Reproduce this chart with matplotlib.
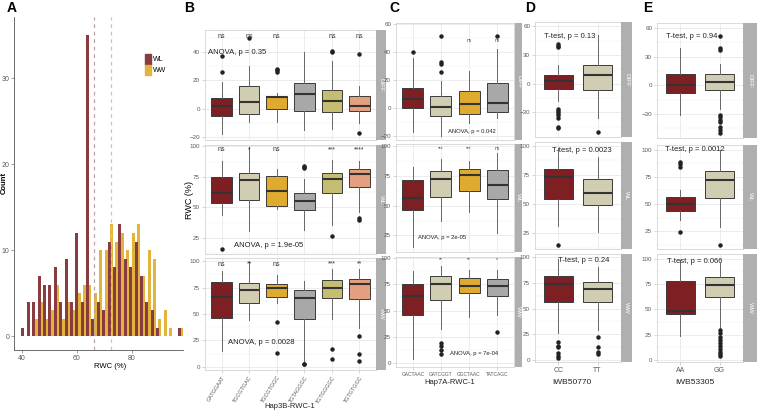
import matplotlib.pyplot as plt
import numpy as np
from matplotlib.patches import Patch
from matplotlib.ticker import MultipleLocator

plt.rcParams['font.family'] = ['Liberation Sans Narrow', 'Liberation Sans', 'DejaVu Sans']

# ---------------- data ----------------
# A: histogram counts per bin (WL / WW)
wl_counts = [1, 4, 4, 7, 6, 6, 8, 4, 9, 4, 12, 4, 35, 2, 4, 3, 11, 8, 13, 9, 8, 11, 7, 4, 3, 1, 0, 0, 0, 1]
ww_counts = [0, 0, 2, 4, 2, 3, 6, 2, 4, 3, 5, 6, 6, 5, 10, 10, 13, 11, 12, 10, 12, 13, 7, 10, 9, 2, 3, 1, 0, 1]
bin_start = 39.8
bin_width = 1.96
wl_mean = 66.2
ww_mean = 72.4

# box stats: (whisker low, q1, median, q3, whisker high)
b_groups = ['GATGGAAT', 'TGCGTGAC', 'TGCGTGGC', 'TGTAGGGC', 'TGTGGGGC', 'TGTGTGGC']
b_diff_stats = [(-18, -5, 2, 7.5, 19), (-9, -4, 5, 16, 30), (-9.5, 0, 8, 9.2, 11),
                (-15, -1.5, 10.5, 18, 40), (-14, -2.5, 5.5, 13.5, 34), (-10, -1.5, 2, 9, 16)]
b_diff_fliers = [[26, 37], [50], [26, 27, 28], [], [40, 41], [38.5, -17]]
b_diff_sig = ['ns', 'ns', 'ns', '', 'ns', 'ns']
b_wl_stats = [(44, 54, 62, 75, 88), (31, 56, 72.4, 78.4, 99.5), (48.5, 51.5, 63.5, 76, 81),
              (31.7, 48, 55.5, 62, 73), (36, 61.6, 73, 78.4, 89), (46, 67, 77.4, 81.6, 88)]
b_wl_fliers = [[16], [], [], [82, 83, 84], [26.7], [40, 41.5]]
b_wl_sig = ['ns', '*', 'ns', '', '***', '****']
b_ww_stats = [(14.8, 46.4, 66.2, 80.4, 90.5), (44, 60.6, 72.6, 79.5, 99.4), (60, 66.2, 75, 78.2, 86.7),
              (5, 44.8, 64.7, 72.6, 81.4), (45.7, 64.7, 74.8, 82, 92.4), (36.3, 64, 78, 83, 92.4)]
b_ww_fliers = [[], [], [42.6, 13.5], [3, 2.5], [17.3, 7], [29.3, 12, 5.7]]
b_ww_sig = ['ns', '**', 'ns', '', '***', '**']
b_tests = ['ANOVA, p = 0.35', 'ANOVA, p = 1.9e-05', 'ANOVA, p = 0.0028']

c_groups = ['GACTAAC', 'GATCGGT', 'GGCTAAC', 'TATCAGC']
c_diff_stats = [(-17, 0, 6.4, 14.3, 36), (-20, -5.6, 0.6, 8.8, 19.6), (-11, -4.2, 2.8, 12.4, 26.3),
                (-7.3, -2.7, 3.6, 18, 42)]
c_diff_fliers = [[40], [25.6, 31.6, 32.8, 51.5], [], [52]]
c_diff_sig = ['', '', 'ns', 'ns']
c_wl_stats = [(15.2, 46.6, 56.5, 72, 83), (36.8, 57, 72.8, 79.5, 89.3), (44.7, 62, 76, 81, 87.4),
              (27, 55.9, 67.4, 80.3, 94.4)]
c_wl_fliers = [[], [], [], []]
c_wl_sig = ['', '***', '***', 'ns']
c_ww_stats = [(4, 46, 64.4, 75.2, 87.3), (32.7, 59.7, 75.2, 82.5, 92), (44.4, 66.7, 73, 81, 88.9),
              (46, 64.4, 73, 80, 88.9)]
c_ww_fliers = [[], [19, 16.5, 12.7, 8.6], [], [29.5]]
c_ww_sig = ['', '**', '**', '*']
c_tests = ['ANOVA, p = 0.042', 'ANOVA, p = 2e-05', 'ANOVA, p = 7e-04']

d_groups = ['CC', 'TT']
d_diff_stats = [(-18, -5.9, 2.4, 8.7, 19), (-35.6, -7, 8.7, 19.9, 50.6)]
d_diff_fliers = [[41.9, 39.4, 38, -27, -29, -31, -33, -36, -45, -47], [-51]]
d_wl_stats = [(31.3, 54.4, 73.5, 79.8, 97.7), (26.4, 49, 59.2, 71.8, 90.6)]
d_wl_fliers = [[15], []]
d_ww_stats = [(26, 56.2, 74, 81.8, 98), (29, 56.2, 69.2, 76.3, 91)]
d_ww_fliers = [[17, 14, 12.3, 6.5, 4, 2.3], [22.7, 13, 8, 5.5]]
d_tests = ['T-test, p = 0.13', 'T-test, p = 0.0023', 'T-test, p = 0.24']

e_groups = ['AA', 'GG']
e_diff_stats = [(-31.4, -7.7, 0, 11.5, 39), (-24.4, -5.2, 3.5, 11.5, 22.7)]
e_diff_fliers = [[], [51, 39.4, 37.3, -31, -33, -36, -38, -44, -47, -50]]
e_wl_stats = [(35.6, 43.9, 50.3, 56.4, 63.1), (28.5, 55.5, 72.3, 80.5, 100)]
e_wl_fliers = [[89, 86.5, 84.5, 24.6], [12]]
e_ww_stats = [(23.8, 45.2, 47.9, 78.2, 99), (31.4, 61.7, 74.3, 81.5, 95.7)]
e_ww_fliers = [[], [29.7, 27, 23, 20, 17, 14, 11, 8, 5.5, 3.5]]
e_tests = ['T-test, p = 0.94', 'T-test, p = 0.0012', 'T-test, p = 0.066']

facet_names = ['DIFF', 'WL', 'WW']

# colours
wl_col, ww_col = '#8A3B3F', '#E2B43C'
c_red, c_beige, c_gold, c_grey, c_olive, c_salmon = '#7E1F23', '#D0CDB3', '#DFAB2E', '#A8A8A8', '#C5BE70', '#E49E80'
b_colors = [c_red, c_beige, c_gold, c_grey, c_olive, c_salmon]
c_colors = [c_red, c_beige, c_gold, c_grey]
de_colors = [c_red, c_beige]

W, H = 757, 412
fig = plt.figure(figsize=(W / 100, H / 100), dpi=100)


def px_axes(x0, y0, x1, y1):
    return fig.add_axes([x0 / W, 1 - y1 / H, (x1 - x0) / W, (y1 - y0) / H])


def ftext(x, y, s, **kw):
    fig.text(x / W, 1 - y / H, s, **kw)


def facet(rect, strip_x, name, stats, fliers, colors, ylim, ystep, bottom):
    ax = px_axes(*rect)
    data = [dict(whislo=s[0], q1=s[1], med=s[2], q3=s[3], whishi=s[4], fliers=f)
            for s, f in zip(stats, fliers)]
    pos = np.arange(1, len(data) + 1)
    bp = ax.bxp(data, positions=pos, widths=0.75, patch_artist=True, showcaps=False,
                boxprops=dict(edgecolor='#3a3a3a', linewidth=0.7),
                medianprops=dict(color='#333333', linewidth=1.5),
                whiskerprops=dict(color='#666666', linewidth=0.7),
                flierprops=dict(marker='o', markerfacecolor='#222222', markeredgecolor='#222222',
                                markersize=2.2, linestyle='none'))
    for patch, c in zip(bp['boxes'], colors):
        patch.set_facecolor(c)
    ax.set_xlim(0.4, len(data) + 0.6)
    ax.set_ylim(*ylim)
    ax.yaxis.set_major_locator(MultipleLocator(ystep))
    ax.yaxis.set_minor_locator(MultipleLocator(ystep / 2))
    ax.set_axisbelow(True)
    ax.grid(which='major', color='#E4E4E4', lw=0.5)
    ax.grid(which='minor', axis='y', color='#F1F1F1', lw=0.35)
    for sp in ax.spines.values():
        sp.set_color('#D4D4D4')
        sp.set_linewidth(0.6)
    ax.tick_params(which='both', length=2, width=0.4, color='#B5B5B5', labelsize=4.5,
                   labelcolor='#5A5A5A', pad=1.5)
    ax.tick_params(which='minor', length=0)
    ax.set_xticks(pos)
    if not bottom:
        ax.tick_params(axis='x', labelbottom=False, length=0)
    st = px_axes(strip_x[0], rect[1], strip_x[1], rect[3])
    st.set_facecolor('#AFAFAF')
    st.set_xticks([])
    st.set_yticks([])
    for sp in st.spines.values():
        sp.set_visible(False)
    st.text(0.5, 0.5, name, rotation=270, color='white', size=4.5, ha='center', va='center',
            transform=st.transAxes)
    return ax


# ---------------- panel A ----------------
axA = px_axes(14, 17, 183, 350)
lefts = bin_start + bin_width * np.arange(len(wl_counts))
axA.bar(lefts + 0.45 * bin_width, ww_counts, width=0.55 * bin_width, align='edge', color=ww_col, label='WW')
axA.bar(lefts, wl_counts, width=0.56 * bin_width, align='edge', color=wl_col, label='WL')
axA.axvline(wl_mean, color='#B7A3A3', lw=0.9, ls=(0, (3, 3)))
axA.axvline(ww_mean, color='#E6C46A', lw=0.9, ls=(0, (3, 3)))
axA.set_xlim(37.1, 98.6)
axA.set_ylim(-1.6, 37.1)
axA.set_xticks([40, 60, 80])
axA.set_yticks([0, 10, 20, 30])
for s in ['top', 'right']:
    axA.spines[s].set_visible(False)
for s in ['left', 'bottom']:
    axA.spines[s].set_color('#555555')
    axA.spines[s].set_linewidth(0.6)
axA.tick_params(length=2, width=0.4, color='#555555', labelsize=5, labelcolor='#5A5A5A', pad=1.5)
axA.legend(handles=[Patch(color=wl_col, label='WL'), Patch(color=ww_col, label='WW')],
           loc='upper left', bbox_to_anchor=(0.755, 0.9), frameon=False, fontsize=5,
           handlelength=0.8, handleheight=2.0, handletextpad=0.3, borderpad=0, labelspacing=0)
ftext(4, 183, 'Count', rotation=90, size=5.5, weight='bold', ha='center', va='center')
ftext(110, 367, 'RWC (%)', size=5.5, ha='center', va='center')

# ---------------- panel B ----------------
b_rows = [(30, 140), (145, 254), (258, 370)]
b_sets = [(b_diff_stats, b_diff_fliers, b_diff_sig, (-22, 55.5), 20),
          (b_wl_stats, b_wl_fliers, b_wl_sig, (12, 101), 25),
          (b_ww_stats, b_ww_fliers, b_ww_sig, (-3, 103), 25)]
b_sig_y = [51, 97, 97]
b_test_xy = [(0.5, 40), (1.46, 19.3), (1.24, 23.4)]
for i, ((y0, y1), (st_, fl, sig, yl, step)) in enumerate(zip(b_rows, b_sets)):
    ax = facet((205, y0, 376, y1), (376, 386), facet_names[i], st_, fl, b_colors, yl, step, i == 2)
    for k, s in enumerate(sig):
        ax.text(k + 1, b_sig_y[i], s, ha='center', va='center', size=5, color='#333333')
    ax.text(*b_test_xy[i], b_tests[i], ha='left', va='center', size=5.5, color='#222222')
    if i == 2:
        ax.set_xticklabels(b_groups, rotation=58, ha='right', rotation_mode='anchor', size=4)
ftext(189, 200, 'RWC (%)', rotation=90, size=6.5, ha='center', va='center')
ftext(290, 407, 'Hap3B-RWC-1', size=5.5, ha='center', va='center', color='#222222')

# ---------------- panel C ----------------
c_rows = [(23, 140), (144, 252), (257, 367)]
c_sets = [(c_diff_stats, c_diff_fliers, c_diff_sig, (-23, 61), 20),
          (c_wl_stats, c_wl_fliers, c_wl_sig, (11, 102), 25),
          (c_ww_stats, c_ww_fliers, c_ww_sig, (-3.5, 101), 25)]
c_sig_y = [48.5, 98, 98.4]
c_test_xy = [(2.26, -17), (1.2, 23), (2.33, 9.5)]
for i, ((y0, y1), (st_, fl, sig, yl, step)) in enumerate(zip(c_rows, c_sets)):
    ax = facet((396, y0, 514, y1), (515, 522), facet_names[i], st_, fl, c_colors, yl, step, i == 2)
    for k, s in enumerate(sig):
        ax.text(k + 1, c_sig_y[i], s, ha='center', va='center', size=3.5, color='#444444')
    ax.text(*c_test_xy[i], c_tests[i], ha='left', va='center', size=4.2, color='#222222')
    if i == 2:
        ax.set_xticklabels(c_groups, size=3.5)
ftext(450, 382, 'Hap7A-RWC-1', size=5.5, ha='center', va='center', color='#222222')

# ---------------- panels D and E ----------------
de_rows = [(22, 137), (142, 249), (254, 362)]
d_sets = [(d_diff_stats, d_diff_fliers, (-56, 64.5), 30),
          (d_wl_stats, d_wl_fliers, (11.6, 103.2), 25),
          (d_ww_stats, d_ww_fliers, (-2, 103.2), 25)]
d_test_xy = [(1.275, 48.8), (1.6, 95.5), (1.65, 96.4)]
for i, ((y0, y1), (st_, fl, yl, step)) in enumerate(zip(de_rows, d_sets)):
    ax = facet((535, y0, 621, y1), (621, 632), facet_names[i], st_, fl, de_colors, yl, step, i == 2)
    ax.text(*d_test_xy[i], d_tests[i], ha='center', va='center', size=5.5, color='#222222')
    if i == 2:
        ax.set_xticklabels(d_groups, size=5)
ftext(572, 383, 'IWB50770', size=6, ha='center', va='center', color='#222222')

e_rows = [(23, 138), (145, 249), (254, 362)]
e_sets = [(e_diff_stats, e_diff_fliers, (-55, 65), 30),
          (e_wl_stats, e_wl_fliers, (8.6, 104.4), 25),
          (e_ww_stats, e_ww_fliers, (-2, 104.5), 25)]
e_test_xy = [(1.3, 50.6), (1.37, 99.8), (1.37, 97)]
for i, ((y0, y1), (st_, fl, yl, step)) in enumerate(zip(e_rows, e_sets)):
    ax = facet((657, y0, 743, y1), (743, 757), facet_names[i], st_, fl, de_colors, yl, step, i == 2)
    ax.text(*e_test_xy[i], e_tests[i], ha='center', va='center', size=5.5, color='#222222')
    if i == 2:
        ax.set_xticklabels(e_groups, size=5)
ftext(695, 383, 'IWB53305', size=6, ha='center', va='center', color='#222222')

# panel letters
for x, letter in [(12, 'A'), (189, 'B'), (394, 'C'), (530, 'D'), (648, 'E')]:
    ftext(x, 8, letter, size=10, weight='bold', ha='center', va='center')

fig.savefig('out.png', dpi=100)
